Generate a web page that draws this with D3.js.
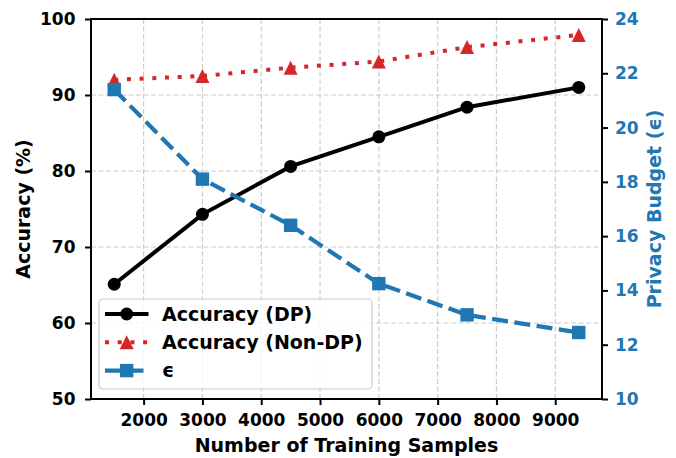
<!DOCTYPE html>
<html>
<head>
<meta charset="utf-8">
<script src="https://cdn.jsdelivr.net/npm/d3@7"></script>
<style>
  body { margin: 0; background: #fff; }
  svg { display: block; font-family: "DejaVu Sans", sans-serif; font-weight: bold; }
</style>
</head>
<body>
<svg id="chart"></svg>
<script>
const samples = [1500, 3000, 4500, 6000, 7500, 9400];
const accDP = [65.1, 74.3, 80.6, 84.5, 88.4, 91.0];
const accNonDP = [92.0, 92.5, 93.6, 94.4, 96.3, 97.9];
const epsilon = [21.4, 18.1, 16.4, 14.25, 13.1, 12.45];

const xTicks = [2000, 3000, 4000, 5000, 6000, 7000, 8000, 9000];
const yLeftTicks = [50, 60, 70, 80, 90, 100];
const yRightTicks = [10, 12, 14, 16, 18, 20, 22, 24];

const seriesNames = ['Accuracy (DP)', 'Accuracy (Non-DP)', 'ϵ'];

const W = 676, H = 458;
const margin = {top: 19, right: 74, bottom: 59, left: 91};
const width = W - margin.left - margin.right;
const height = H - margin.top - margin.bottom;

const blue = '#1f77b4';
const red = '#d62728';

const svg = d3.select('#chart').attr('width', W).attr('height', H);
const chart = svg.append('g').attr('transform', `translate(${margin.left}, ${margin.top})`);

// matplotlib-like 5% margins on x
const pad = (d3.max(samples) - d3.min(samples)) * 0.05;
const x = d3.scaleLinear()
  .domain([d3.min(samples) - pad, d3.max(samples) + pad])
  .range([0, width]);

const yL = d3.scaleLinear().domain([50, 100]).range([height, 0]);
const yR = d3.scaleLinear().domain([10, 24]).range([height, 0]);

// grid
const grid = chart.append('g')
  .attr('stroke', '#cccccc')
  .attr('stroke-width', 1.2)
  .attr('stroke-dasharray', '5,2.5');

grid.selectAll('.vg')
    .data(xTicks)
  .enter().append('line')
    .attr('x1', d => x(d)).attr('x2', d => x(d))
    .attr('y1', 0).attr('y2', height);

grid.selectAll('.hg')
    .data(yLeftTicks.slice(1, -1))
  .enter().append('line')
    .attr('x1', 0).attr('x2', width)
    .attr('y1', d => yL(d)).attr('y2', d => yL(d));

// axes
function styleAxis(g, color) {
  g.select('.domain').remove();
  g.selectAll('.tick line').attr('stroke', '#000').attr('stroke-width', 2);
  g.selectAll('.tick text')
    .attr('fill', color)
    .style('font-size', '17px')
    .style('font-weight', 'bold')
    .style('font-family', '"DejaVu Sans", sans-serif');
}

chart.append('g')
  .attr('transform', `translate(0, ${height})`)
  .call(d3.axisBottom(x).tickValues(xTicks).tickSize(6).tickPadding(9).tickFormat(d3.format('d')))
  .call(g => styleAxis(g, '#000'));

chart.append('g')
  .call(d3.axisLeft(yL).tickValues(yLeftTicks).tickSize(6).tickPadding(9.5).tickFormat(d3.format('d')))
  .call(g => styleAxis(g, '#000'));

chart.append('g')
  .attr('transform', `translate(${width}, 0)`)
  .call(d3.axisRight(yR).tickValues(yRightTicks).tickSize(6).tickPadding(7).tickFormat(d3.format('d')))
  .call(g => styleAxis(g, blue));

// lines
const rows = samples.map((s, i) => ({s, dp: accDP[i], non: accNonDP[i], eps: epsilon[i]}));

const lineDP = d3.line().x(d => x(d.s)).y(d => yL(d.dp));
const lineNon = d3.line().x(d => x(d.s)).y(d => yL(d.non));
const lineEps = d3.line().x(d => x(d.s)).y(d => yR(d.eps));

const tri = d3.symbol().type(d3.symbolTriangle);
function triPath(size) {
  const h = size / 2;
  return `M0,${-h}L${h},${h}L${-h},${h}Z`;
}

// Accuracy (DP)
chart.append('path')
  .datum(rows)
  .attr('fill', 'none')
  .attr('stroke', '#000')
  .attr('stroke-width', 4)
  .attr('d', lineDP);

chart.selectAll('.dp')
    .data(rows)
  .enter().append('circle')
    .attr('cx', d => x(d.s))
    .attr('cy', d => yL(d.dp))
    .attr('r', 6.5)
    .attr('fill', '#000');

// Accuracy (Non-DP)
chart.append('path')
  .datum(rows)
  .attr('fill', 'none')
  .attr('stroke', red)
  .attr('stroke-width', 4)
  .attr('stroke-dasharray', '4,8.7')
  .attr('d', lineNon);

chart.selectAll('.non')
    .data(rows)
  .enter().append('path')
    .attr('transform', d => `translate(${x(d.s)}, ${yL(d.non)})`)
    .attr('d', triPath(14))
    .attr('fill', red);

// epsilon
chart.append('path')
  .datum(rows)
  .attr('fill', 'none')
  .attr('stroke', blue)
  .attr('stroke-width', 4.2)
  .attr('stroke-dasharray', '16,6.5')
  .attr('d', lineEps);

chart.selectAll('.eps')
    .data(rows)
  .enter().append('rect')
    .attr('x', d => x(d.s) - 6.7)
    .attr('y', d => yR(d.eps) - 6.7)
    .attr('width', 13.4)
    .attr('height', 13.4)
    .attr('fill', blue);

// frame
chart.append('rect')
  .attr('width', width)
  .attr('height', height)
  .attr('fill', 'none')
  .attr('stroke', '#000')
  .attr('stroke-width', 2);

// axis titles
svg.append('text')
  .attr('x', margin.left + width / 2)
  .attr('y', 451.5)
  .attr('text-anchor', 'middle')
  .style('font-size', '19px')
  .text('Number of Training Samples');

svg.append('text')
  .attr('transform', `translate(30, ${margin.top + height / 2}) rotate(-90)`)
  .attr('text-anchor', 'middle')
  .style('font-size', '19px')
  .text('Accuracy (%)');

svg.append('text')
  .attr('transform', `translate(661, ${margin.top + height / 2}) rotate(-90)`)
  .attr('text-anchor', 'middle')
  .attr('fill', blue)
  .style('font-size', '19px')
  .text('Privacy Budget (ϵ)');

// legend
const legend = svg.append('g').attr('transform', 'translate(99, 299)');

legend.append('rect')
  .attr('width', 273)
  .attr('height', 90)
  .attr('rx', 4)
  .attr('fill', '#fff')
  .attr('fill-opacity', 0.8)
  .attr('stroke', '#cccccc')
  .attr('stroke-width', 1.2);

const items = legend.selectAll('.item')
    .data(seriesNames)
  .enter().append('g')
    .attr('transform', (d, i) => `translate(0, ${15 + i * 28.3})`);

items.append('line')
  .attr('x1', 6).attr('x2', 49.5)
  .attr('stroke', (d, i) => ['#000', red, blue][i])
  .attr('stroke-width', (d, i) => [4, 4, 4.2][i])
  .attr('stroke-dasharray', (d, i) => [null, '4,8.7', '16,6.5'][i]);

items.each(function(d, i) {
  const g = d3.select(this);
  if (i === 0) {
    g.append('circle').attr('cx', 27.7).attr('r', 6.5).attr('fill', '#000');
  } else if (i === 1) {
    g.append('path').attr('transform', 'translate(27.7, 0)').attr('d', triPath(14)).attr('fill', red);
  } else {
    g.append('rect').attr('x', 21).attr('y', -6.7).attr('width', 13.4).attr('height', 13.4).attr('fill', blue);
  }
});

items.append('text')
  .attr('x', 63)
  .attr('dy', '0.36em')
  .style('font-size', '19px')
  .text(d => d);
</script>
</body>
</html>
